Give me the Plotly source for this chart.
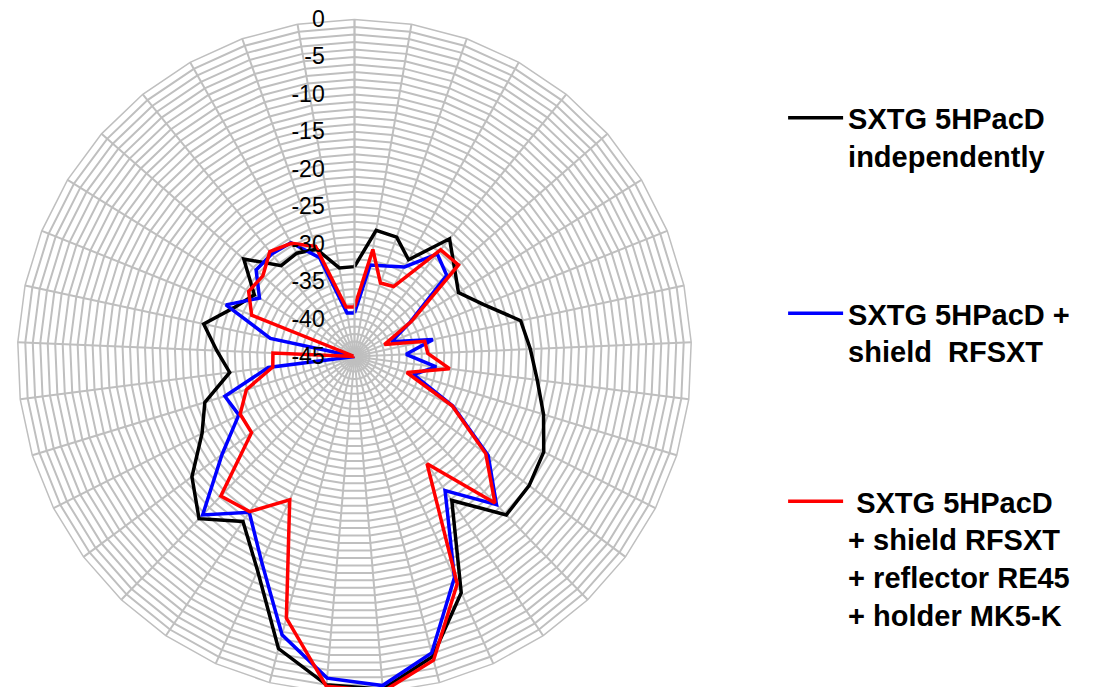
import plotly.graph_objects as go

# 37 measurement directions, 0..360 deg in 10 deg steps (Excel radar categories)
angles = [str(a) for a in range(0, 361, 10)]

radial_ticks = list(range(-45, 1))
radial_labels = [str(v) if v % 5 == 0 else "" for v in radial_ticks]

black = [-33.0, -27.9, -28.1, -30.2, -24.8, -27.2, -28.7, -26.4, -22.3, -21.5,
         -20.4, -18.6, -16.7, -16.0, -15.7, -21.8, -10.4, -3.6, -0.4, -1.0,
         -4.7, -13.6, -18.4, -15.0, -18.0, -22.2, -24.1, -28.2, -26.6, -24.4,
         -27.6, -29.3, -25.3, -29.4, -29.2, -29.8, -33.0]

blue = [-39.2, -32.6, -32.2, -31.3, -27.4, -28.6, -36.3, -39.7, -34.3, -38.1,
        -34.0, -36.8, -30.3, -22.8, -17.6, -23.4, -12.6, -4.1, -0.9, -1.9,
        -6.6, -14.9, -19.9, -15.7, -23.0, -27.7, -26.9, -33.4, -45.0, -33.5,
        -26.5, -30.1, -27.5, -27.4, -27.6, -31.0, -39.1]

red = [-38.4, -30.5, -34.6, -34.3, -26.7, -26.5, -36.1, -40.7, -35.4, -35.2,
       -32.2, -37.7, -30.4, -23.2, -17.9, -27.7, -11.7, -3.1, -0.1, -0.8,
       -8.9, -24.0, -20.0, -19.2, -27.9, -27.9, -29.9, -34.0, -34.1, -45.0,
       -30.2, -28.4, -28.7, -27.0, -27.7, -29.4, -38.3]

names = [
    "SXTG 5HPacD<br>independently",
    "SXTG 5HPacD +<br>shield\u00a0\u00a0RFSXT",
    "\u00a0SXTG 5HPacD<br>+ shield RFSXT<br>+ reflector RE45<br>+ holder MK5-K",
]
colors = ["#000000", "#0000FF", "#FF0000"]
series = [black, blue, red]
legend_ids = ["legend", "legend2", "legend3"]

fig = go.Figure()
for vals, nm, col, lg in zip(series, names, colors, legend_ids):
    fig.add_trace(go.Scatterpolar(
        r=vals + [vals[0]],
        theta=angles + [angles[0]],
        mode="lines",
        line=dict(color=col, width=3.5),
        name=nm,
        legend=lg,
    ))

W, H = 1094, 687
cx, cy, R = 346.5, 348.5, 337.0
legend_font = dict(size=29, color="black", family="Liberation Sans, Arial, sans-serif", weight="bold")


def leg(ytop_px):
    return dict(
        x=0.7085, xanchor="left",
        y=1 - ytop_px / H, yanchor="top",
        font=legend_font,
        itemwidth=55,
        valign="top",
        bgcolor="rgba(0,0,0,0)",
    )


fig.update_layout(
    width=W, height=H,
    margin=dict(l=0, r=0, t=0, b=0),
    paper_bgcolor="white",
    plot_bgcolor="white",
    font=dict(family="Liberation Sans, Arial, sans-serif", color="black"),
    polar=dict(
        domain=dict(x=[(cx - R) / W, (cx + R) / W],
                    y=[(H - cy - R) / H, (H - cy + R) / H]),
        bgcolor="white",
        gridshape="linear",
        angularaxis=dict(
            type="category",
            categoryarray=angles,
            rotation=90,
            direction="clockwise",
            showticklabels=False,
            ticks="",
            showline=True,
            linecolor="#bfbfbf",
            linewidth=1.5,
            gridcolor="#bfbfbf",
            gridwidth=1.5,
        ),
        radialaxis=dict(
            range=[-45, 0],
            angle=90,
            side="counterclockwise",
            tickvals=radial_ticks,
            ticktext=radial_labels,
            tickangle=90,
            ticks="outside",
            ticklen=21,
            tickcolor="rgba(0,0,0,0)",
            tickfont=dict(size=23, color="black", family="Liberation Sans, Arial, sans-serif"),
            showline=True,
            linecolor="#bfbfbf",
            linewidth=1.5,
            gridcolor="#bfbfbf",
            gridwidth=1.5,
        ),
    ),
    legend=leg(84.5),
    legend2=leg(280.0),
    legend3=leg(468.0),
    showlegend=True,
)

fig.write_html("out.html")
